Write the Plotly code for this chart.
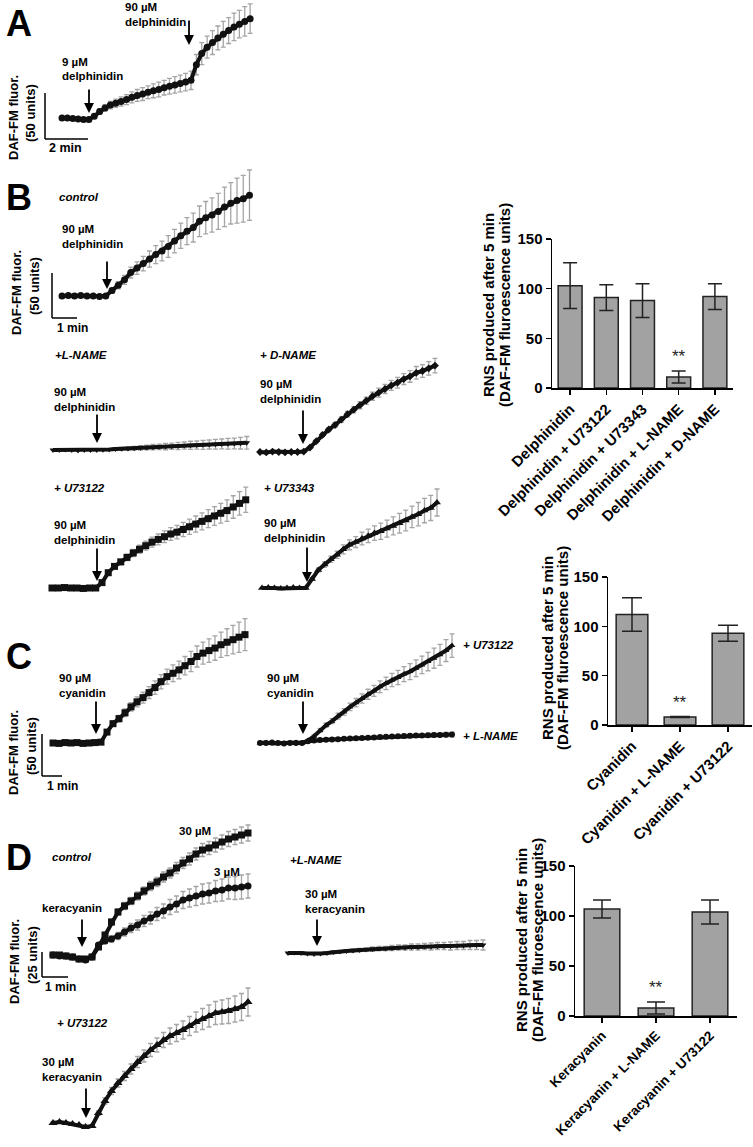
import plotly.graph_objects as go

W, H = 753, 1147
FONT = "Liberation Sans, Arial, Helvetica, sans-serif"

# ---------------- DATA ----------------
# Panel A (time in min, DAF-FM fluorescence units above baseline)
tA = [0, 0.25, 0.5, 0.75, 1.0, 1.25, 1.5, 1.75, 2.0, 2.25, 2.5, 2.75, 3.0, 3.25, 3.5, 3.75,
      4.0, 4.25, 4.5, 4.75, 5.0, 5.25, 5.5, 5.75, 6.0, 6.25, 6.5, 6.75, 7.0, 7.25, 7.5, 7.75,
      8.0, 8.25, 8.5, 8.75]
A_delph = [0, 0, -0.5, -1, -1.5, -1.5, 2, 7, 11, 14, 16, 18, 20, 22.5, 24.5, 26, 28, 29.5, 31, 33,
           34.5, 36, 37.5, 39, 41, 58, 70, 77, 82, 87, 91, 95, 99, 102, 105, 108]
A_delph_sd = [1, 1, 1, 1, 1, 1, 2, 3, 3.5, 4, 4.5, 5, 5.5, 6, 6.5, 7, 7, 7.5, 8, 8, 8.5, 9, 9, 9.5,
              10, 11, 12, 12, 13, 13, 14, 14, 15, 15, 16, 16]

# Panel B traces
tB31 = [0, 0.25, 0.5, 0.75, 1.0, 1.25, 1.5, 1.75, 2.0, 2.25, 2.5, 2.75, 3.0, 3.25, 3.5, 3.75,
        4.0, 4.25, 4.5, 4.75, 5.0, 5.25, 5.5, 5.75, 6.0, 6.25, 6.5, 6.75, 7.0, 7.25, 7.5]
tB32 = [0, 0.25, 0.5, 0.75, 1.0, 1.25, 1.5, 1.75, 2.0, 2.25, 2.5, 2.75, 3.0, 3.25, 3.5, 3.75,
        4.0, 4.25, 4.5, 4.75, 5.0, 5.25, 5.5, 5.75, 6.0, 6.25, 6.5, 6.75, 7.0, 7.25, 7.5, 7.75]
tB29 = [0, 0.25, 0.5, 0.75, 1.0, 1.25, 1.5, 1.75, 2.0, 2.25, 2.5, 2.75, 3.0, 3.25, 3.5, 3.75,
        4.0, 4.25, 4.5, 4.75, 5.0, 5.25, 5.5, 5.75, 6.0, 6.25, 6.5, 6.75, 7.0]
B_control = [0, 0.5, 0, 0.5, 0, 0, -0.5, 0, 6, 12, 18, 26, 31, 36, 41, 46, 50, 55, 61, 67, 72, 76,
             83, 87, 90, 94, 99, 103, 106, 108, 112]
B_control_sd = [1, 1, 1, 1, 1, 1, 1, 1, 3, 4, 5, 6, 7, 8, 9, 10, 11, 12, 13, 14, 15, 16, 17, 18,
                19, 20, 22, 23, 25, 26, 28]
B_lname = [0, 0, 0.5, 0, -0.5, 0, 0, 0, 0.3, 0.6, 1, 1.3, 1.7, 2, 2.4, 2.8, 3.1, 3.5, 3.8, 4.2,
           4.5, 4.9, 5.2, 5.5, 5.8, 6.1, 6.4, 6.7, 7, 7.3, 7.6, 8]
B_lname_sd = [0.5, 0.5, 0.5, 0.5, 0.5, 0.5, 0.5, 0.5, 1, 1, 1.5, 1.5, 2, 2, 2.5, 2.5, 3, 3, 3.5,
              3.5, 4, 4, 4.5, 4.5, 5, 5, 5.5, 5.5, 6, 6, 6.5, 7]
B_dname = [0, -0.5, 0.5, 0, -0.5, 0, 0, 0.5, 5, 12, 19, 25, 30, 36, 42, 47, 52, 57, 62, 66, 70,
           74, 77, 81, 84, 88, 90, 93, 96]
B_dname_sd = [0.5, 0.5, 0.5, 0.5, 0.5, 0.5, 0.5, 0.5, 1, 1.5, 2, 2, 2.5, 3, 3, 3.5, 4, 4, 4.5, 5,
              5, 5.5, 6, 6, 6.5, 7, 7, 7.5, 8]
B_u73122 = [0, 0, 0.5, 0, 0, -0.5, 0, 0, 6, 17, 24, 29, 34, 39, 43, 47, 51, 54, 57, 60, 62, 65,
            68, 71, 74, 77, 80, 83, 86, 90, 94, 98]
B_u73122_sd = [0.5, 0.5, 0.5, 0.5, 0.5, 0.5, 0.5, 0.5, 1, 2, 2.5, 3, 3.5, 4, 4.5, 5, 5.5, 6, 6.5,
               7, 7.5, 8, 8.5, 9, 9.5, 10, 10.5, 11, 12, 12.5, 13, 14]
B_u73343 = [0, 0.5, 0, -0.5, 0, 0.5, 0, 0, 10, 20, 26, 32, 37, 43, 48, 51, 55, 58, 61, 63, 66,
            69, 72, 75, 79, 82, 86, 89, 95]
B_u73343_sd = [0.5, 0.5, 0.5, 0.5, 0.5, 0.5, 0.5, 0.5, 1.5, 2, 3, 3.5, 4, 5, 5.5, 6, 7, 7.5, 8, 9,
               9.5, 10, 11, 11.5, 12, 13, 13.5, 14, 15]

# Panel C traces
tC = [0, 0.3, 0.6, 0.9, 1.2, 1.5, 1.8, 2.1, 2.4, 2.7, 3.0, 3.3, 3.6, 3.9, 4.2, 4.5, 4.8, 5.1,
      5.4, 5.7, 6.0, 6.3, 6.6, 6.9, 7.2, 7.5, 7.8, 8.1, 8.4, 8.7, 9.0, 9.3, 9.6]
C_cyan = [0, -0.5, 0.5, 0, 0.5, -0.5, 0, 0.5, 1, 13, 23, 29, 36, 43, 49, 54, 60, 66, 73, 79, 83,
          87, 92, 97, 103, 107, 110, 113, 117, 120, 123, 126, 129]
C_cyan_sd = [1, 1, 1, 1, 1, 1, 1, 1, 1, 2, 3, 4, 4.5, 5, 6, 6.5, 7, 8, 8.5, 9, 10, 10.5, 11, 12,
             12.5, 13, 14, 14.5, 15, 16, 17, 18, 19]
C_u73122 = [0, 0.5, -0.5, 0, -0.5, 0, 0.5, 0, 3, 8, 15, 21, 26, 32, 37, 43, 48, 53, 58, 62, 67,
            71, 75, 78, 82, 85, 89, 93, 97, 101, 105, 110, 116]
C_u73122_sd = [0.5, 0.5, 0.5, 0.5, 0.5, 0.5, 0.5, 0.5, 1, 1.5, 2, 2.5, 3, 3.5, 4, 4.5, 5, 5.5, 6,
               6.5, 7, 7.5, 8, 8.5, 9, 9.5, 10, 10.5, 11, 12, 12.5, 13, 14]
C_lname = [0, 0, 0.5, 0, -0.5, 0, 0, 0, 2, 3, 3.5, 4, 4.3, 4.6, 5, 5.3, 5.6, 6, 6.3, 6.6, 7, 7.3,
           7.6, 7.9, 8.2, 8.5, 8.8, 9, 9.2, 9.4, 9.6, 9.8, 10]
C_lname_sd = [0.5, 0.5, 0.5, 0.5, 0.5, 0.5, 0.5, 0.5, 0.8, 0.8, 1, 1, 1, 1.2, 1.2, 1.2, 1.5, 1.5,
              1.5, 1.8, 1.8, 1.8, 2, 2, 2, 2.2, 2.2, 2.2, 2.5, 2.5, 2.5, 2.8, 3]

# Panel D traces
tD = [0, 0.25, 0.5, 0.75, 1.0, 1.25, 1.5, 1.75, 2.0, 2.25, 2.5, 2.75, 3.0, 3.25, 3.5, 3.75,
      4.0, 4.25, 4.5, 4.75, 5.0, 5.25, 5.5, 5.75, 6.0, 6.25, 6.5, 6.75, 7.0, 7.25, 7.5]
D_30 = [0, 0, -1, -2, -4, -4, -2, 8, 20, 33, 43, 49, 54, 59, 64, 69, 73, 78, 82, 87, 92, 96, 101,
        105, 107, 110, 113, 116, 118, 120, 122]
D_30_sd = [1, 1, 1, 1, 1, 1, 1, 2, 2.5, 3, 3, 3.5, 3.5, 4, 4, 4.5, 4.5, 5, 5, 5.5, 5.5, 6, 6, 6.5,
           6.5, 7, 7, 7.5, 7.5, 8, 8]
D_3 = [0, -1, -1, -2, -4, -5, -2, 10, 14, 16, 19, 23, 27, 30, 34, 37, 41, 44, 48, 51, 55, 57, 59,
       61, 62, 64, 65, 67, 67, 68, 69]
D_3_sd = [1, 1, 1, 1, 1, 1, 1, 2, 2.5, 3, 3.5, 4, 4.5, 5, 5.5, 6, 6.5, 7, 7.5, 8, 8.5, 9, 9.5, 10,
          10, 10.5, 11, 11, 11.5, 12, 12]
D_lname = [0, 0.5, 0, -0.5, -1, -0.5, 0, 1, 1.5, 2, 2.5, 3, 3.5, 4, 4.5, 4.5, 5, 5.5, 5.5, 6, 6,
           6.5, 6.5, 7, 7, 7, 7.5, 7.5, 8, 8, 8]
D_lname_sd = [0.5, 0.5, 0.5, 0.5, 0.5, 0.5, 0.5, 1, 1, 1, 1.5, 1.5, 1.5, 2, 2, 2, 2.5, 2.5, 2.5,
              3, 3, 3, 3.5, 3.5, 3.5, 4, 4, 4, 4.5, 4.5, 5]
D_u73122 = [0, 1, 0, -1, -2, -4, -3, 10, 22, 32, 40, 47, 54, 61, 67, 73, 78, 83, 87, 90, 93, 97,
            101, 104, 107, 110, 111, 112, 114, 116, 121]
D_u73122_sd = [1, 1, 1, 1, 1, 1, 1, 2, 3, 3.5, 4, 4.5, 5, 5.5, 6, 6.5, 7, 7.5, 8, 8.5, 9, 9.5, 10,
               10.5, 11, 11.5, 12, 12.5, 13, 13.5, 14]

# Bar charts: RNS produced after 5 min
barB_cats = ["Delphinidin", "Delphinidin + U73122", "Delphinidin + U73343",
             "Delphinidin + L-NAME", "Delphinidin + D-NAME"]
barB_vals = [103, 91, 88, 11, 92]
barB_err = [23, 13, 17, 6, 13]
barC_cats = ["Cyanidin", "Cyanidin + L-NAME", "Cyanidin + U73122"]
barC_vals = [112, 8, 93]
barC_err = [17, 0.5, 8]
barD_cats = ["Keracyanin", "Keracyanin + L-NAME", "Keracyanin + U73122"]
barD_vals = [107, 8, 104]
barD_err = [9, 6, 12]
bar_ticks = [0, 50, 100, 150]

# ---------------- HELPERS ----------------
fig = go.Figure()
axes = {}
annotations = []
shapes = []
counter = [0]


def pxx(x):
    return x / W


def pxy(y):
    return 1 - y / H


def refs(i):
    return ('x' if i == 1 else f'x{i}'), ('y' if i == 1 else f'y{i}')


def trace_axes(box, x0, ppm, base, ppu):
    counter[0] += 1
    i = counter[0]
    L, R, T, B = box
    xr, yr = refs(i)
    axes['xaxis' if i == 1 else f'xaxis{i}'] = dict(
        domain=[pxx(L), pxx(R)], range=[(L - x0) / ppm, (R - x0) / ppm],
        visible=False, anchor=yr, fixedrange=True, automargin=False)
    axes['yaxis' if i == 1 else f'yaxis{i}'] = dict(
        domain=[pxy(B), pxy(T)], range=[(base - B) / ppu, (base - T) / ppu],
        visible=False, anchor=xr, fixedrange=True, automargin=False)
    return dict(xr=xr, yr=yr, x0=x0, ppm=ppm, base=base, ppu=ppu)


def add_series(ax, t, v, sd, symbol='circle', size=7):
    fig.add_trace(go.Scatter(
        x=t, y=v, xaxis=ax['xr'], yaxis=ax['yr'], mode='lines+markers',
        line=dict(color='#111111', width=4),
        marker=dict(symbol=symbol, size=size, color='#111111', line=dict(width=0)),
        error_y=dict(type='data', array=sd, visible=True, color='#a5a5a5',
                     thickness=1.3, width=2.5),
        cliponaxis=False, hoverinfo='skip', showlegend=False))


def scale_bar(ax, px, py, dt, du):
    t0 = (px - ax['x0']) / ax['ppm']
    u0 = (ax['base'] - py) / ax['ppu']
    ln = dict(color='black', width=1.5)
    shapes.append(dict(type='line', xref=ax['xr'], yref=ax['yr'], x0=t0, y0=u0,
                       x1=t0, y1=u0 + du, line=ln))
    shapes.append(dict(type='line', xref=ax['xr'], yref=ax['yr'], x0=t0, y0=u0,
                       x1=t0 + dt, y1=u0, line=ln))


def text(x, y, s, size=11.5, bold=True, italic=False, anchor='left', angle=0):
    if bold:
        s = f'<b>{s}</b>'
    if italic:
        s = f'<i>{s}</i>'
    annotations.append(dict(x=pxx(x), y=pxy(y), xref='paper', yref='paper', text=s,
                            showarrow=False, xanchor=anchor, yanchor='middle',
                            textangle=angle,
                            font=dict(family=FONT, size=size, color='black')))


def arrow(x, y_top, y_head):
    annotations.append(dict(x=pxx(x), y=pxy(y_head), xref='paper', yref='paper',
                            ax=0, ay=-(y_head - y_top), text='', showarrow=True,
                            arrowhead=2, arrowsize=1.1, arrowwidth=1.8,
                            arrowcolor='black', standoff=0))


def ylab(x1, x2, yc1, yc2, units):
    text(x1, yc1, 'DAF-FM fluor.', size=13, anchor='center', angle=-90)
    text(x2, yc2, units, size=13, anchor='center', angle=-90)


def bar_title(x1, x2, yc):
    text(x1, yc, 'RNS produced after 5 min', size=15, anchor='center', angle=-90)
    text(x2, yc, '(DAF-FM fluroescence units)', size=15, anchor='center', angle=-90)


def bar_panel(box, cats, vals, errs, cap, star_idx, label_size=15):
    counter[0] += 1
    i = counter[0]
    L, R, T, B = box
    xr, yr = refs(i)
    axes[f'xaxis{i}'] = dict(
        domain=[pxx(L), pxx(R)], range=[-0.5, len(cats) - 0.5], anchor=yr,
        showline=True, linecolor='black', linewidth=1.5, ticks='outside',
        ticklen=5, tickwidth=1.5, tickcolor='black', showgrid=False, zeroline=False,
        tickangle=-45,
        tickfont=dict(family=FONT, size=label_size, color='black', weight='bold'),
        tickmode='array', tickvals=list(range(len(cats))), ticktext=cats,
        fixedrange=True, automargin=False)
    axes[f'yaxis{i}'] = dict(
        domain=[pxy(B), pxy(T)], range=[0, 150], anchor=xr,
        showline=True, linecolor='black', linewidth=1.5, ticks='outside',
        ticklen=5, tickwidth=1.5, tickcolor='black', showgrid=False, zeroline=False,
        tickvals=bar_ticks, tickfont=dict(family=FONT, size=15, color='black', weight='bold'),
        fixedrange=True, automargin=False)
    fig.add_trace(go.Bar(
        x=list(range(len(cats))), y=vals, xaxis=xr, yaxis=yr, width=0.66,
        marker=dict(color='#a2a2a2', line=dict(color='#222222', width=1.5)),
        error_y=dict(type='data', array=errs, visible=True, color='#222222',
                     thickness=1.5, width=cap),
        hoverinfo='skip', showlegend=False))
    annotations.append(dict(x=star_idx, y=vals[star_idx] + errs[star_idx] + 3, xref=xr,
                            yref=yr, text='**', showarrow=False, yanchor='bottom',
                            font=dict(family=FONT, size=17, color='#222222')))


# ---------------- PANEL A ----------------
text(4, 24, 'A', size=36, anchor='left')
axA = trace_axes((38, 262, 0, 150), x0=62, ppm=21.5, base=118, ppu=0.92)
add_series(axA, tA, A_delph, A_delph_sd, 'circle', 7)
scale_bar(axA, 45, 139, 2, 50)
text(47, 148, '2 min', size=12.5)
ylab(14, 30, 118, 113, '(50 units)')
text(60, 62, '9 µM')
text(60, 76, 'delphinidin')
arrow(89, 88, 113)
text(123, 7, '90 µM')
text(123, 22, 'delphinidin')
arrow(189, 19, 45)

# ---------------- PANEL B ----------------
text(4, 197, 'B', size=36, anchor='left')
text(57, 197, 'control', italic=True)
axBc = trace_axes((40, 262, 160, 330), x0=62, ppm=25, base=296, ppu=0.9)
add_series(axBc, tB31, B_control, B_control_sd, 'circle', 7)
scale_bar(axBc, 52, 318, 1, 50)
text(55, 328, '1 min', size=12)
ylab(16, 34, 293, 286, '(50 units)')
text(60, 229, '90 µM')
text(60, 244, 'delphinidin')
arrow(107, 260, 289)

text(53, 355, '+L-NAME', italic=True)
axBl = trace_axes((45, 252, 420, 465), x0=53, ppm=25, base=450, ppu=0.9)
add_series(axBl, tB32, B_lname, B_lname_sd, 'triangle-down', 6)
text(52, 392, '90 µM')
text(52, 407, 'delphinidin')
arrow(97, 413, 443)

text(258, 355, '+ D-NAME', italic=True)
axBd = trace_axes((252, 448, 345, 465), x0=260, ppm=25, base=452, ppu=0.9)
add_series(axBd, tB29, B_dname, B_dname_sd, 'diamond', 6)
text(258, 384, '90 µM')
text(258, 399, 'delphinidin')
arrow(303, 409, 444)

text(52, 488, '+ U73122', italic=True)
axBu = trace_axes((45, 252, 470, 600), x0=52, ppm=25, base=588, ppu=0.9)
add_series(axBu, tB32, B_u73122, B_u73122_sd, 'square', 7)
text(52, 525, '90 µM')
text(52, 540, 'delphinidin')
arrow(97, 547, 581)

text(262, 488, '+ U73343', italic=True)
axBv = trace_axes((252, 448, 470, 600), x0=262, ppm=25, base=588, ppu=0.9)
add_series(axBv, tB29, B_u73343, B_u73343_sd, 'triangle-up', 7)
text(262, 523, '90 µM')
text(262, 538, 'delphinidin')
arrow(307, 546, 582)

bar_panel((552, 733, 239, 388), barB_cats, barB_vals, barB_err, 7, 3)
bar_title(489, 505, 305)

# ---------------- PANEL C ----------------
text(4, 656, 'C', size=36, anchor='left')
axCl = trace_axes((35, 258, 600, 790), x0=53, ppm=20, base=743, ppu=0.84)
add_series(axCl, tC, C_cyan, C_cyan_sd, 'square', 7)
scale_bar(axCl, 42, 776, 1, 50)
text(45, 786, '1 min', size=12)
ylab(13, 31, 753, 746, '(50 units)')
text(57, 678, '90 µM')
text(57, 693, 'cyanidin')
arrow(96, 700, 734)

axCr = trace_axes((255, 460, 610, 760), x0=260, ppm=20, base=743, ppu=0.84)
add_series(axCr, tC, C_u73122, C_u73122_sd, 'triangle-up', 6)
add_series(axCr, tC, C_lname, C_lname_sd, 'circle', 6)
text(265, 678, '90 µM')
text(265, 693, 'cyanidin')
arrow(303, 700, 734)
text(461, 645, '+ U73122', italic=True)
text(461, 736, '+ L-NAME', italic=True)

bar_panel((608, 752, 577, 725), barC_cats, barC_vals, barC_err, 10, 1)
bar_title(547, 562, 648)

# ---------------- PANEL D ----------------
text(4, 857, 'D', size=36, anchor='left')
text(50, 857, 'control', italic=True)
axDc = trace_axes((35, 262, 815, 990), x0=53, ppm=26, base=955, ppu=1.0)
add_series(axDc, tD, D_3, D_3_sd, 'circle', 7)
add_series(axDc, tD, D_30, D_30_sd, 'square', 7)
scale_bar(axDc, 42, 977, 1, 25)
text(43, 987, '1 min', size=12)
ylab(14, 32, 962, 955, '(25 units)')
text(177, 831, '30 µM')
text(212, 872, '3 µM')
text(40, 908, 'keracyanin')
arrow(82, 918, 947)

text(288, 860, '+L-NAME', italic=True)
axDl = trace_axes((280, 495, 925, 968), x0=288, ppm=26, base=953, ppu=1.0)
add_series(axDl, tD, D_lname, D_lname_sd, 'triangle-down', 6)
text(303, 894, '30 µM')
text(303, 909, 'keracyanin')
arrow(317, 918, 946)

text(55, 1023, '+ U73122', italic=True)
axDu = trace_axes((40, 262, 985, 1140), x0=53, ppm=26, base=1123, ppu=1.0)
add_series(axDu, tD, D_u73122, D_u73122_sd, 'triangle-up', 8)
text(40, 1062, '30 µM')
text(40, 1077, 'keracyanin')
arrow(86, 1087, 1118)

bar_panel((575, 737, 866, 1016), barD_cats, barD_vals, barD_err, 9, 1, label_size=13.5)
bar_title(521, 537, 940)

fig.update_layout(
    template='none',
    width=W, height=H, margin=dict(l=0, r=0, t=0, b=0, pad=0, autoexpand=False),
    paper_bgcolor='white', plot_bgcolor='rgba(0,0,0,0)',
    showlegend=False, annotations=annotations, shapes=shapes,
    font=dict(family=FONT, color='black'), **axes)

fig.write_html("out.html",
               config={'displayModeBar': False, 'staticPlot': True},
               post_script="document.body.style.margin='0px';"
                           "document.body.style.padding='0px';")
